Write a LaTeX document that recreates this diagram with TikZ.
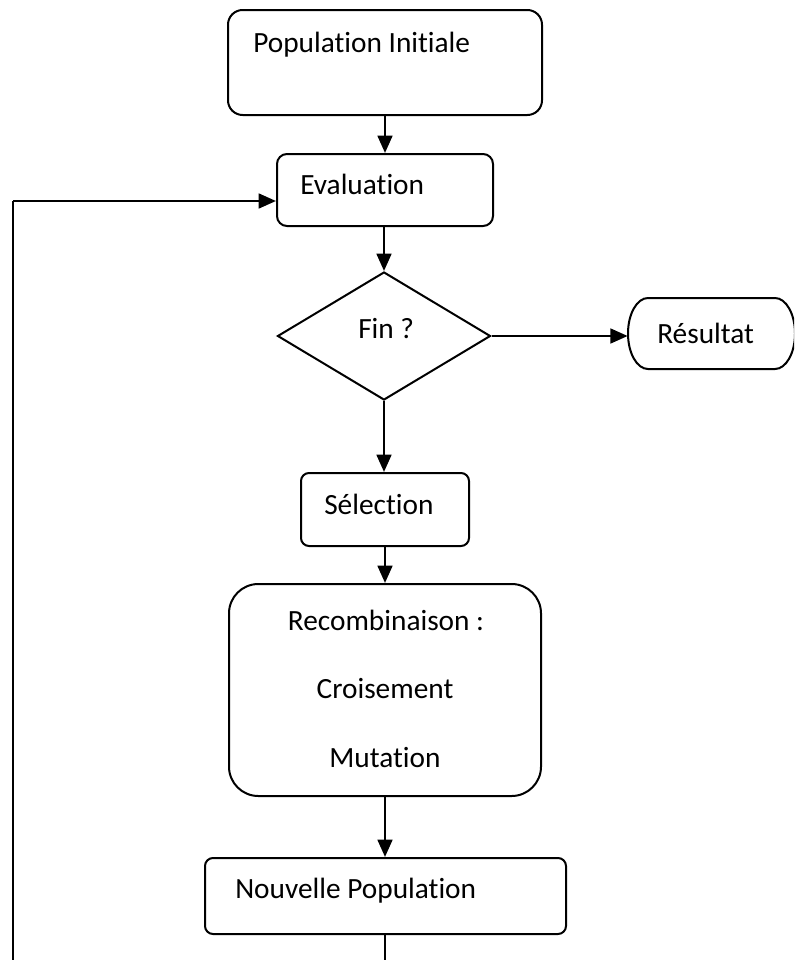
\documentclass[tikz,border=0pt]{standalone}
\usepackage{fontspec}
\setmainfont{Carlito}[Ligatures={NoCommon}]
\usetikzlibrary{arrows.meta,shapes.geometric}
\begin{document}
\begin{tikzpicture}[x=0.75pt,y=-0.75pt,
  font=\fontsize{22pt}{26pt}\selectfont,
  boxstyle/.style={draw,line width=1.5pt,inner sep=0pt,rectangle},
  conn/.style={line width=2pt,-{Triangle[length=13pt,width=11pt]}},
  plain/.style={line width=2pt},
  txt/.style={inner sep=0pt,anchor=base west},
  ctxt/.style={inner sep=0pt,anchor=base}]
\useasboundingbox (0,0) rectangle (794,960);
\fill[white] (0,0) rectangle (794,960);
\clip (0,0) rectangle (794,960);

% boxes
\node[boxstyle,rounded corners=11pt,minimum width=235.5pt,minimum height=78.75pt] (pop) at (385,62.5) {};
\node[boxstyle,rounded corners=7.5pt,minimum width=162pt,minimum height=54pt] (eval) at (385,190) {};
\node[draw,line width=1.5pt,shape=diamond,inner sep=0pt,minimum width=159.75pt,minimum height=96pt] (fin) at (384,336) {};
\node[inner sep=0pt,minimum width=125.25pt,minimum height=53.25pt] (res) at (711.5,333.5) {};
\draw[line width=1.5pt] (648,298) arc[start angle=90,end angle=270,x radius=15pt,y radius=26.625pt]
  -- (775,369) arc[start angle=-90,end angle=90,x radius=15pt,y radius=26.625pt] -- cycle;
\node[boxstyle,rounded corners=6pt,minimum width=126pt,minimum height=54.75pt] (sel) at (385,509.5) {};
\node[boxstyle,rounded corners=22pt,minimum width=234pt,minimum height=159pt] (rec) at (385,690) {};
\node[boxstyle,rounded corners=6pt,minimum width=270.75pt,minimum height=57pt] (nouv) at (385.5,896) {};

% texts
\node[txt] (tpop) at (253,52) {Population Initiale};
\node[txt] (teval) at (300,194) {Evaluation};
\node[txt] (tfin) at (358,338) {Fin ?};
\node[txt] (tres) at (657,343) {Résultat};
\node[txt] (tsel) at (324,514) {Sélection};
\node[ctxt] (trec1) at (386,630) {Recombinaison :};
\node[ctxt] (trec2) at (385,698) {Croisement};
\node[ctxt] (trec3) at (385,767) {Mutation};
\node[txt] (tnouv) at (235,898) {Nouvelle Population};

% connectors
\draw[conn] (pop.south) -- (eval.north);
\draw[conn] (eval.south -| fin.north) -- (fin.north);
\draw[conn] (fin.east) -- (fin.east -| res.west);
\draw[conn] (fin.south) -- (fin.south |- sel.north);
\draw[conn] (sel.south) -- (rec.north);
\draw[conn] (rec.south) -- (rec.south |- nouv.north);

\coordinate (c1) at (385,975);
\coordinate (c2) at (13,975);
\coordinate (c3) at (13,201);
\draw[plain] (nouv.south -| rec.south) -- (c1) -- (c2) -- (c3);
\draw[conn] (c3) -- (c3 -| eval.west);
\end{tikzpicture}
\end{document}
